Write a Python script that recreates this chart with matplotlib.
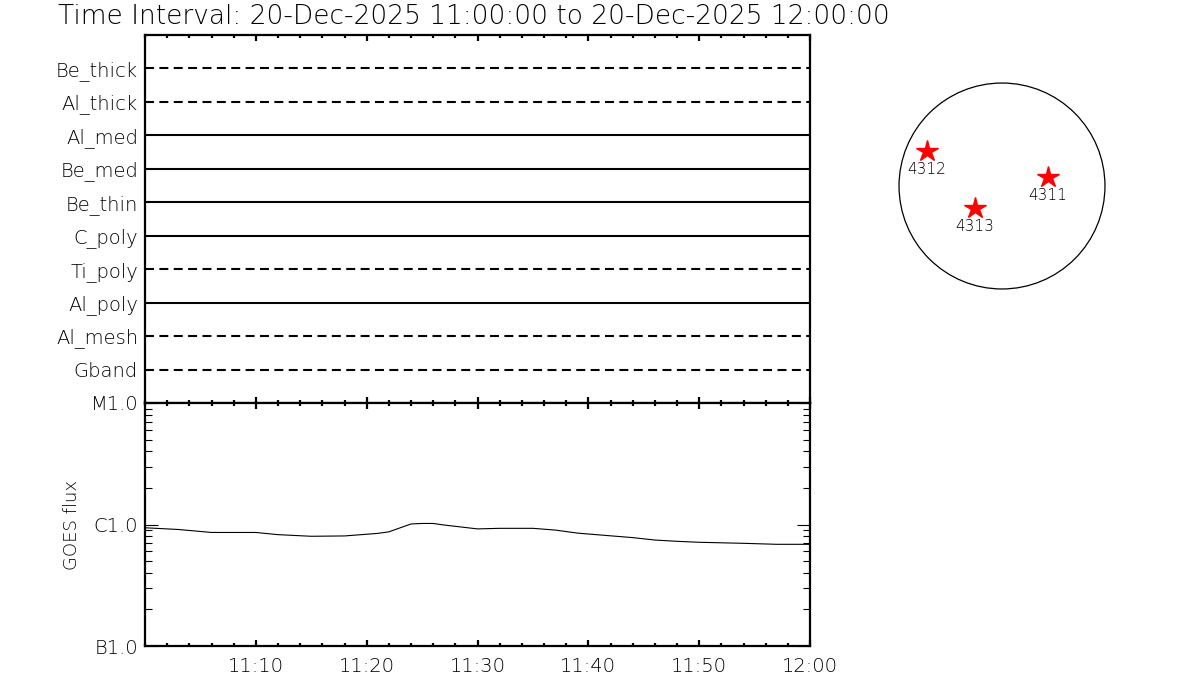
import numpy as np
import pandas as pd
import matplotlib
matplotlib.use("Agg")
import matplotlib.pyplot as plt
import matplotlib.dates as mdates
from matplotlib.ticker import FixedLocator, LogLocator, NullFormatter
from matplotlib.patches import Circle

day = "2025-12-20"
t_start, t_end = "11:00", "12:00"

# filter rows, top to bottom, and whether the channel is dashed
channels = ["Be_thick", "Al_thick", "Al_med", "Be_med", "Be_thin",
            "C_poly", "Ti_poly", "Al_poly", "Al_mesh", "Gband"]
dashed = [True, True, False, False, False, False, True, False, True, True]

# GOES flux (W/m^2)
goes_times = ["11:00", "11:03", "11:06", "11:10", "11:12", "11:15", "11:18",
              "11:21", "11:22", "11:24", "11:25", "11:26", "11:27", "11:30",
              "11:32", "11:35", "11:37", "11:39", "11:40", "11:44", "11:46",
              "11:48", "11:50", "11:54", "11:57", "12:00"]
goes_flux = [9.4e-7, 9.1e-7, 8.6e-7, 8.6e-7, 8.25e-7, 8.0e-7, 8.05e-7,
             8.45e-7, 8.7e-7, 1.01e-6, 1.02e-6, 1.02e-6, 9.9e-7, 9.2e-7,
             9.3e-7, 9.3e-7, 9.0e-7, 8.5e-7, 8.35e-7, 7.8e-7, 7.45e-7,
             7.27e-7, 7.14e-7, 7.0e-7, 6.87e-7, 6.87e-7]
flux_ticks = [1e-7, 1e-6, 1e-5]
flux_labels = ["B1.0", "C1.0", "M1.0"]
time_ticks = ["11:10", "11:20", "11:30", "11:40", "11:50", "12:00"]

# active regions on the disk (arcsec from disk centre)
ar_names = ["4312", "4311", "4313"]
ar_x = [-700, 430, -250]
ar_y = [325, 85, -205]
r_sun = 960

def to_time(s):
    return pd.to_datetime(day + " " + s)

plt.rcParams["font.family"] = ["DejaVu Sans"]
plt.rcParams["font.weight"] = "light"
plt.rcParams["axes.labelweight"] = "light"
fig = plt.figure(figsize=(12, 7), dpi=100)

ax1 = fig.add_axes([145 / 1200, 1 - 403 / 700, 665 / 1200, 368 / 700])
ax2 = fig.add_axes([145 / 1200, 1 - 646 / 700, 665 / 1200, 243 / 700], sharex=ax1)

# top panel: one row per channel
t0, t1 = to_time(t_start), to_time(t_end)
for i, (name, d) in enumerate(zip(channels, dashed)):
    ls = (0, (4.3, 2.6)) if d else "-"
    ax1.plot([t0, t1], [i + 1, i + 1], color="black", lw=1.5, ls=ls)
ax1.set_ylim(len(channels) + 1, 0)
ax1.set_yticks(range(1, len(channels) + 1))
ax1.set_yticklabels(channels, fontsize=14)
ax1.tick_params(axis="y", length=0, pad=5)
ax1.tick_params(axis="x", which="both", direction="in", top=True, bottom=True,
                labelbottom=False, width=1.6)
ax1.tick_params(axis="x", which="major", length=4.5)
ax1.tick_params(axis="x", which="minor", length=2.3)

# bottom panel: GOES flux
tt = [to_time(s) for s in goes_times]
ax2.plot(tt, goes_flux, color="black", lw=0.8)
ax2.set_yscale("log")
ax2.set_ylim(1e-7, 1e-5)
ax2.yaxis.set_major_locator(FixedLocator(flux_ticks))
ax2.set_yticklabels(flux_labels, fontsize=14)
ax2.yaxis.set_minor_locator(LogLocator(base=10, subs=np.arange(2, 10)))
ax2.yaxis.set_minor_formatter(NullFormatter())
ax2.tick_params(axis="y", which="both", direction="in", left=True, right=True, width=0.8)
ax2.tick_params(axis="y", which="major", length=9.5, pad=5)
ax2.tick_params(axis="y", which="minor", length=5)
ax2.set_ylabel("GOES flux", fontsize=13, labelpad=7)

ax2.set_xlim(t0, t1)
ax2.xaxis.set_major_locator(FixedLocator(mdates.date2num([to_time(s) for s in time_ticks])))
ax2.xaxis.set_minor_locator(mdates.MinuteLocator(byminute=range(0, 60, 2)))
ax2.xaxis.set_major_formatter(mdates.DateFormatter("%H:%M"))
ax2.tick_params(axis="x", which="both", direction="in", top=True, bottom=True,
                width=1.6, labelsize=14, pad=8)
ax2.tick_params(axis="x", which="major", length=4.5)
ax2.tick_params(axis="x", which="minor", length=2.3)

for ax in (ax1, ax2):
    for sp in ax.spines.values():
        sp.set_linewidth(1.6)

fig.text(58 / 1200, 1 - 24 / 700,
         "Time Interval: 20-Dec-2025 11:00:00 to 20-Dec-2025 12:00:00",
         fontsize=19, va="baseline", ha="left")

# solar disk with active regions
ax3 = fig.add_axes([898 / 1200, 1 - 290 / 700, 208 / 1200, 208 / 700])
ax3.add_patch(Circle((0, 0), r_sun, fill=False, color="black", lw=0.9))
ax3.plot(ar_x, ar_y, ls="none", marker="*", color="red", markersize=16)
for name, x, y in zip(ar_names, ar_x, ar_y):
    ax3.text(x, y - 100, name, fontsize=11, ha="center", va="top")
ax3.set_xlim(-r_sun * 1.01, r_sun * 1.01)
ax3.set_ylim(-r_sun * 1.01, r_sun * 1.01)
ax3.axis("off")

fig.savefig("out.png", dpi=100)
